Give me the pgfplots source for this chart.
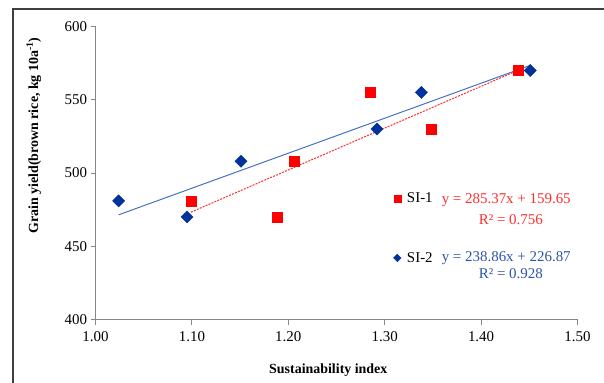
\documentclass[border=0pt]{standalone}
\usepackage{pgfplots}
\pgfplotsset{compat=1.18}
\usepackage{fontspec}
\setmainfont{Liberation Serif}
\definecolor{sired}{RGB}{255,0,0}
\definecolor{sinavy}{RGB}{0,51,153}
\definecolor{linblue}{RGB}{68,114,196}
\definecolor{eqred}{RGB}{255,45,45}
\definecolor{eqblue}{RGB}{45,85,165}
\definecolor{axgray}{RGB}{134,134,134}
\begin{document}
\begin{tikzpicture}
\path[use as bounding box] (0,0) rectangle (604bp,383bp);
\draw[black!75, line width=1.1bp] (13bp,0) -- (13bp,374bp) -- (604bp,374bp);
\begin{axis}[
  at={(95.5bp,63.5bp)}, anchor=south west,
  scale only axis, width=482bp, height=293bp,
  xmin=1.0, xmax=1.5, ymin=400, ymax=600,
  xtick={1.0,1.1,1.2,1.3,1.4,1.5},
  ytick={400,450,500,550,600},
  axis x line=bottom, axis y line=left,
  axis line style={axgray, line width=0.9bp, -},
  tick style={axgray, line width=0.9bp},
  tick align=outside, major tick length=5bp,
  /pgf/number format/assume math mode=true,
  xticklabel style={/pgf/number format/.cd, fixed, fixed zerofill, precision=2, /tikz/yshift=-4bp},
  yticklabel style={/pgf/number format/.cd, fixed, precision=0},
  ticklabel style={font=\fontsize{15}{17}\selectfont, text=black},
  xlabel={\textbf{Sustainability index}},
  ylabel={\textbf{Grain yield(brown rice, kg 10a\textsuperscript{-1})}},
  xlabel style={font=\fontsize{14}{16}\selectfont, at={(axis description cs:0.483,-0.173)}, anchor=center},
  ylabel style={font=\fontsize{14}{16}\selectfont, at={(axis description cs:-0.128,0.628)}, anchor=center},
  clip=false,
  legend style={draw=none, fill=none, inner sep=0pt, row sep=44bp,
    font=\fontsize{15}{17}\selectfont, at={(axis cs:1.3085,462.3)}, anchor=west},
  legend cell align=left,
]
\addplot[only marks, mark=square*, mark size=5bp, color=sired,
  legend image code/.code={\path (0bp,0bp) (11.5bp,0bp); \draw[only marks, mark=square*, sired, mark size=3.5bp] plot coordinates {(4bp,0bp)};}]
  coordinates {(1.099,481) (1.189,470) (1.206,508) (1.285,555) (1.348,530) (1.439,570)};
\addlegendentry{SI-1}
\addplot[only marks, mark=square*, mark size=4.3bp, mark options={rotate=45}, color=sinavy,
  legend image code/.code={\path (0bp,0bp) (11.5bp,0bp); \draw[only marks, mark=square*, sinavy, mark size=2.7bp, mark options={rotate=45}] plot coordinates {(4bp,0bp)};}]
  coordinates {(1.024,481) (1.095,470) (1.151,508) (1.292,530) (1.338,555) (1.451,570)};
\addlegendentry{SI-2}
\addplot[linblue, line width=1bp, forget plot] coordinates {(1.024,471.46) (1.451,573.46)};
\addplot[eqred, line width=1bp, dash pattern=on 2bp off 1.2bp, forget plot] coordinates {(1.099,473.27) (1.439,570.30)};
\node[anchor=west, inner sep=0pt, text=eqred, font=\fontsize{15}{17}\selectfont] at (axis cs:1.359,481.3) {y = 285.37x + 159.65};
\node[anchor=west, inner sep=0pt, text=eqred, font=\fontsize{15}{17}\selectfont] at (axis cs:1.3975,468.4) {R² = 0.756};
\node[anchor=west, inner sep=0pt, text=eqblue, font=\fontsize{15}{17}\selectfont] at (axis cs:1.359,441.8) {y = 238.86x + 226.87};
\node[anchor=west, inner sep=0pt, text=eqblue, font=\fontsize{15}{17}\selectfont] at (axis cs:1.3975,431.6) {R² = 0.928};
\end{axis}
\end{tikzpicture}
\end{document}
